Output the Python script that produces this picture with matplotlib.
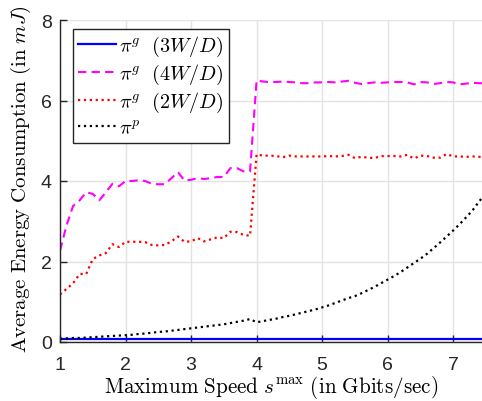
import numpy as np
import matplotlib
matplotlib.use("Agg")
import matplotlib.pyplot as plt

# speed values (Gbits/sec), sampled every 0.1
speed = [round(1.0 + 0.1 * i, 1) for i in range(66)]

# pi^g (3W/D) - practically flat
blue_x = [1.0, 3.9, 4.0, 7.5]
blue_y = [0.08, 0.08, 0.08, 0.08]

# pi^g (4W/D)
magenta = [2.27, 2.90, 3.38, 3.52, 3.72, 3.68, 3.52, 3.72, 3.93, 3.87,
           4.00, 4.00, 4.02, 4.00, 3.93, 3.92, 3.92, 4.07, 4.22, 4.01,
           4.03, 4.07, 4.05, 4.07, 4.10, 4.10, 4.32, 4.32, 4.24, 4.24,
           6.50, 6.47, 6.46, 6.46, 6.47, 6.46, 6.45, 6.43, 6.43, 6.45,
           6.45, 6.46, 6.45, 6.47, 6.49, 6.44, 6.41, 6.43, 6.45, 6.44,
           6.45, 6.46, 6.46, 6.45, 6.40, 6.46, 6.45, 6.41, 6.43, 6.46,
           6.45, 6.40, 6.42, 6.44, 6.43, 6.43]

# pi^g (2W/D)
red = [1.18, 1.32, 1.46, 1.69, 1.69, 2.06, 2.15, 2.21, 2.43, 2.36,
       2.49, 2.49, 2.49, 2.48, 2.41, 2.40, 2.41, 2.50, 2.62, 2.49,
       2.50, 2.58, 2.50, 2.55, 2.60, 2.58, 2.74, 2.73, 2.66, 2.64,
       4.66, 4.63, 4.63, 4.62, 4.59, 4.63, 4.61, 4.61, 4.61, 4.61,
       4.61, 4.62, 4.61, 4.62, 4.65, 4.57, 4.60, 4.58, 4.57, 4.62,
       4.62, 4.62, 4.61, 4.65, 4.56, 4.63, 4.62, 4.58, 4.58, 4.67,
       4.61, 4.61, 4.60, 4.61, 4.60, 4.61]

# pi^p
black = [0.08, 0.09, 0.10, 0.10, 0.11, 0.12, 0.13, 0.14, 0.15, 0.16,
         0.17, 0.18, 0.20, 0.21, 0.23, 0.25, 0.26, 0.28, 0.30, 0.32,
         0.34, 0.36, 0.38, 0.40, 0.42, 0.44, 0.47, 0.50, 0.53, 0.57,
         0.49, 0.52, 0.55, 0.58, 0.62, 0.65, 0.69, 0.73, 0.77, 0.81,
         0.86, 0.91, 0.97, 1.03, 1.09, 1.14, 1.21, 1.29, 1.37, 1.46,
         1.55, 1.64, 1.74, 1.85, 1.96, 2.07, 2.19, 2.33, 2.47, 2.62,
         2.77, 2.93, 3.10, 3.28, 3.50, 3.70]

labels = [r"$\pi^g\ \ (3W/D)$", r"$\pi^g\ \ (4W/D)$", r"$\pi^g\ \ (2W/D)$", r"$\pi^p$"]
x_ticks = [1, 2, 3, 4, 5, 6, 7]
y_ticks = [0, 2, 4, 6, 8]

plt.rcParams["mathtext.fontset"] = "cm"
plt.rcParams["font.family"] = ["Liberation Sans", "DejaVu Sans"]

fig = plt.figure(figsize=(4.82, 4.02), dpi=100)
ax = fig.add_axes([60 / 482, 59 / 402, 422 / 482, 322 / 402])

ax.plot(blue_x, blue_y, color="#0000ff", lw=1.6, label=labels[0])
ax.plot(speed, magenta, color="#ff00ff", lw=1.5, dashes=(4, 2.5), label=labels[1])
ax.plot(speed, red, color="#ff0000", lw=1.6, linestyle=":", label=labels[2])
ax.plot(speed, black, color="black", lw=1.6, linestyle=":", label=labels[3])

ax.set_xlim(1, 7.44)
ax.set_ylim(0, 8)
ax.set_xticks(x_ticks)
ax.set_yticks(y_ticks)
ax.grid(True, color="#e3e3e3", lw=1)
ax.set_axisbelow(True)

for s in ["top", "right"]:
    ax.spines[s].set_visible(False)
for s in ["left", "bottom"]:
    ax.spines[s].set_color("#262626")
    ax.spines[s].set_linewidth(1.0)
ax.tick_params(direction="in", length=5, width=1, colors="#262626", labelsize=14)
ax.tick_params(axis="y", pad=6)
ax.tick_params(axis="x", pad=10)

ax.set_xlabel(r"$\mathrm{Maximum\ Speed\ }s^{\max}\mathrm{\ (in\ Gbits/sec)}$",
              fontsize=15.2, labelpad=0)
ax.set_ylabel(r"$\mathrm{Average\ Energy\ Consumption\ (in\ }mJ\mathrm{)}$",
              fontsize=15)
ax.yaxis.set_label_coords(-0.064, 0.51)

leg = ax.legend(loc="upper left", bbox_to_anchor=(73 / 482, 372 / 402),
                bbox_transform=fig.transFigure, borderaxespad=0,
                fontsize=14.5, handlelength=1.9, handletextpad=0.15,
                labelspacing=0.2, borderpad=0.25, fancybox=False,
                framealpha=1, edgecolor="#262626")
leg.get_frame().set_linewidth(1.0)

fig.savefig("out.png", dpi=100)
